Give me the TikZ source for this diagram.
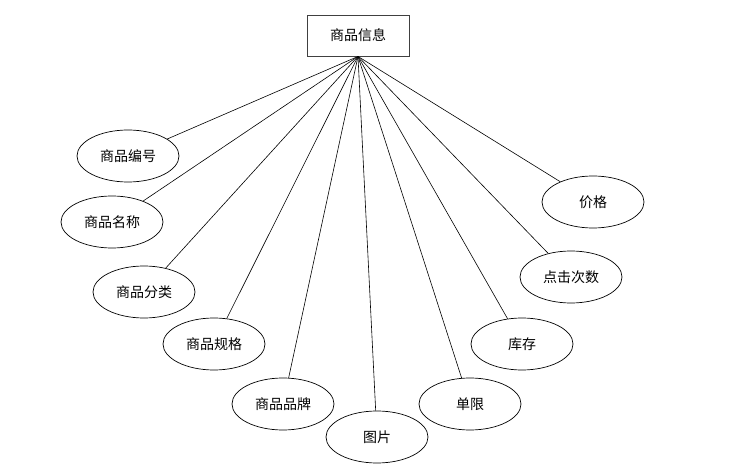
\documentclass[tikz,border=0pt]{standalone}
\usepackage{fontspec}
\newfontfamily\cjk{Noto Sans CJK SC}
\usetikzlibrary{shapes.geometric}

\begin{document}
\begin{tikzpicture}[
  x=1pt, y=-1pt,
  ent/.style={rectangle, draw=black!75, line width=0.9pt, minimum width=102pt,
              minimum height=41pt, font=\cjk\fontsize{14}{16}\selectfont},
  attr/.style={ellipse, draw, line width=0.7pt, minimum width=102pt,
               minimum height=52pt, inner sep=0pt, font=\cjk\fontsize{14}{16}\selectfont},
  link/.style={line width=0.6pt},
]
\useasboundingbox (0,0) rectangle (732,470);

% Entity
\node[ent] (info) at (358,35.5) {商品信息};
\coordinate (hub) at (info.south);

% Attributes
\node[attr] (bh) at (128,156) {商品编号};
\node[attr] (mc) at (112,222) {商品名称};
\node[attr] (fl) at (144,292) {商品分类};
\node[attr] (gg) at (214,344) {商品规格};
\node[attr] (pp) at (283,404) {商品品牌};
\node[attr] (tp) at (377,437) {图片};
\node[attr] (dx) at (470,404) {单限};
\node[attr] (kc) at (522,344) {库存};
\node[attr] (dj) at (571,277) {点击次数};
\node[attr] (jg) at (593,202) {价格};

% Links
\foreach \a in {bh,mc,fl,gg,pp,tp,dx,kc,dj,jg}
  \draw[link] (hub) -- (\a);
\end{tikzpicture}
\end{document}
